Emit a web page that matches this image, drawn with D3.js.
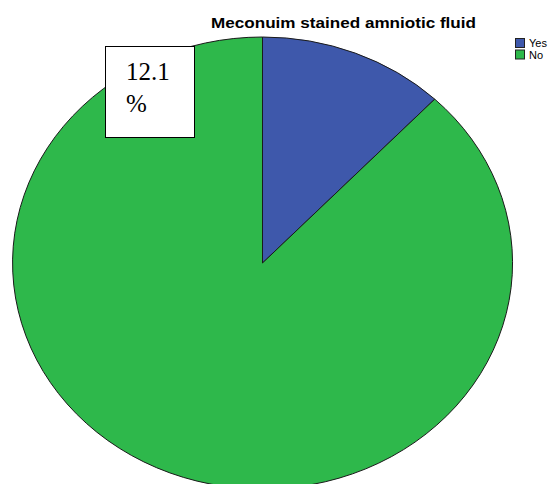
<!DOCTYPE html>
<html>
<head>
<meta charset="utf-8">
<script src="https://cdn.jsdelivr.net/npm/d3@7"></script>
<style>
  body { margin: 0; background: #fff; }
  svg { display: block; }
</style>
</head>
<body>
<svg id="chart" width="548" height="484"></svg>
<script>
var categories = ["Yes", "No"];
var values = [12.1, 87.9];
var colors = ["#3e58ab", "#2eb84b"];
var labelText = ["12.1", "%"];

var svg = d3.select("#chart");
var cx = 262.5, cy = 263, rx = 250, ry = 226;

// title
svg.append("text")
  .attr("x", 211)
  .attr("y", 28)
  .attr("textLength", 265)
  .attr("lengthAdjust", "spacingAndGlyphs")
  .style("font-family", "Liberation Sans, Arial, sans-serif")
  .style("font-weight", "bold")
  .style("font-size", "15.5px")
  .text("Meconuim stained amniotic fluid");

var pie = d3.pie().sort(null).value(function(d) { return d; });
var arc = d3.arc().innerRadius(0).outerRadius(1);

// unit circle scaled into the ellipse
var g = svg.append("g")
  .attr("transform", "translate(" + cx + "," + cy + ") scale(" + rx + "," + ry + ")");

g.selectAll("path")
  .data(pie(values))
  .enter().append("path")
    .attr("d", arc)
    .attr("fill", function(d, i) { return colors[i]; })
    .attr("stroke", "#1a1a1a")
    .attr("stroke-width", 1)
    .attr("vector-effect", "non-scaling-stroke");

// value label box
var box = svg.append("g").attr("transform", "translate(105,46)");
box.append("rect")
  .attr("x", 0.5).attr("y", 0.5)
  .attr("width", 89).attr("height", 91)
  .attr("fill", "#fff")
  .attr("stroke", "#000")
  .attr("stroke-width", 1);
box.selectAll("text")
  .data(labelText)
  .enter().append("text")
    .attr("x", 21)
    .attr("y", function(d, i) { return 34 + i * 32; })
    .style("font-family", "Liberation Serif, Times New Roman, serif")
    .style("font-size", "25px")
    .text(function(d) { return d; });

// legend
var legend = svg.selectAll(".legend")
  .data(categories)
  .enter().append("g")
    .attr("class", "legend")
    .attr("transform", function(d, i) { return "translate(515," + (38 + i * 11.5) + ")"; });

legend.append("rect")
  .attr("x", 0.5).attr("y", 0.5)
  .attr("width", 9).attr("height", 9)
  .attr("fill", function(d, i) { return colors[i]; })
  .attr("stroke", "#222")
  .attr("stroke-width", 1);

legend.append("text")
  .attr("x", 14)
  .attr("y", 9)
  .style("font-family", "Liberation Sans, Arial, sans-serif")
  .style("font-size", "11px")
  .text(function(d) { return d; });
</script>
</body>
</html>
